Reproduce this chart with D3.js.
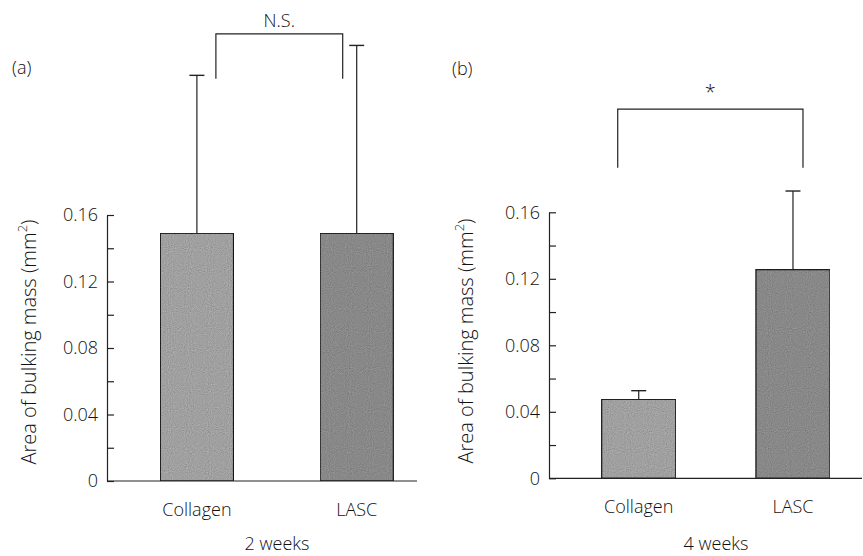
<!DOCTYPE html>
<html>
<head>
<meta charset="utf-8">
<script src="https://cdn.jsdelivr.net/npm/d3@7"></script>
<style>
  body { margin: 0; background: #fff; }
  svg text { font-family: "Open Sans", "Noto Sans", sans-serif; font-weight: 300; fill: #111; }
</style>
</head>
<body>
<div id="chart"></div>
<script>
// data
var groups = ["Collagen", "LASC"]
var week2Mean = [0.149, 0.149]
var week2SD = [0.095, 0.113]
var week4Mean = [0.0475, 0.1255]
var week4SD = [0.0052, 0.0473]
var tickValues = [0, 0.02, 0.04, 0.06, 0.08, 0.10, 0.12, 0.14, 0.16]
var labelValues = [0, 0.04, 0.08, 0.12, 0.16]
var barColors = ["#afafaf", "#959595"]

var width = 863, height = 556;
var fontSize = 18;

var svg = d3.select("#chart")
  .append("svg")
    .attr("width", width)
    .attr("height", height);

// grainy fill like the printed figure
var defs = svg.append("defs");
var grain = defs.append("filter").attr("id", "grain")
  .attr("x", 0).attr("y", 0).attr("width", 1).attr("height", 1);
grain.append("feTurbulence")
  .attr("type", "fractalNoise").attr("baseFrequency", 0.95)
  .attr("numOctaves", 1).attr("seed", 3).attr("result", "noise");
grain.append("feColorMatrix").attr("in", "noise").attr("type", "matrix")
  .attr("values", "0 0 0 0 0  0 0 0 0 0  0 0 0 0 0  0.35 0.35 0.35 0 -0.35")
  .attr("result", "dots");
grain.append("feComposite").attr("in", "dots").attr("in2", "SourceGraphic")
  .attr("operator", "in").attr("result", "dots2");
grain.append("feMerge").selectAll("feMergeNode")
  .data(["SourceGraphic", "dots2"]).enter()
  .append("feMergeNode").attr("in", function(d) { return d; });

var panels = [
  {
    tag: "(a)", tagX: 12, tagY: 74,
    title: "2 weeks", titleX: 277,
    mean: week2Mean, sd: week2SD,
    axisX: 107, axisEnd: 417, y0: 481, y1: 215,
    bandRange: [160.3, 393.3], padInner: 0.542,
    sig: "N.S.", legs: [19, -14], bracketTop: 0.269, bracketBottom: 0.242, sigY: 27,
    yLabelX: 36, yLabelY: 342
  },
  {
    tag: "(b)", tagX: 452, tagY: 75,
    title: "4 weeks", titleX: 716,
    mean: week4Mean, sd: week4SD,
    axisX: 549, axisEnd: 862, y0: 478.3, y1: 212.3,
    bandRange: [601.7, 830], padInner: 0.52,
    sig: "*", legs: [-21, 10], bracketTop: 0.2221, bracketBottom: 0.1868, sigY: 99,
    yLabelX: 473, yLabelY: 341
  }
];

panels.forEach(drawPanel);

function drawPanel(p) {
  var g = svg.append("g");

  var y = d3.scaleLinear()
    .domain([0, 0.16])
    .range([p.y0, p.y1]);

  var x = d3.scaleBand()
    .domain(groups)
    .range(p.bandRange)
    .paddingInner(p.padInner)
    .paddingOuter(0);

  // error bars (upper only) drawn first so bars sit on top
  groups.forEach(function(name, i) {
    var cx = x(name) + x.bandwidth() / 2;
    var top = y(p.mean[i] + p.sd[i]);
    g.append("line")
      .attr("x1", cx).attr("x2", cx)
      .attr("y1", y(p.mean[i])).attr("y2", top)
      .attr("stroke", "#222").attr("stroke-width", 1.2);
    g.append("line")
      .attr("x1", cx - 7.5).attr("x2", cx + 7.5)
      .attr("y1", top).attr("y2", top)
      .attr("stroke", "#222").attr("stroke-width", 1.4);
  });

  g.selectAll("rect.bar")
    .data(groups)
    .enter()
    .append("rect")
      .attr("class", "bar")
      .attr("x", function(d) { return x(d); })
      .attr("y", function(d, i) { return y(p.mean[i]); })
      .attr("width", x.bandwidth())
      .attr("height", function(d, i) { return y(0) - y(p.mean[i]); })
      .attr("fill", function(d, i) { return barColors[i]; })
      .attr("filter", "url(#grain)")
      .attr("stroke", "#1a1a1a")
      .attr("stroke-width", 1.2);

  // y axis: ticks point inward, labels every other tick
  var yAxis = d3.axisLeft(y)
    .tickValues(tickValues)
    .tickSizeInner(-7)
    .tickSizeOuter(0)
    .tickPadding(9)
    .tickFormat(function(d) {
      if (labelValues.indexOf(Math.round(d * 100) / 100) < 0) return "";
      return d === 0 ? "0" : d3.format(".2f")(d);
    });

  var ax = g.append("g")
    .attr("transform", "translate(" + p.axisX + ",0)")
    .call(yAxis);
  ax.attr("font-size", null).attr("font-family", null);
  ax.select(".domain").attr("stroke", "#222").attr("stroke-width", 1.2);
  ax.selectAll(".tick line").attr("stroke", "#222").attr("stroke-width", 1.2);
  ax.selectAll(".tick text")
    .attr("font-size", fontSize)
    .attr("fill", "#111");

  // x axis baseline
  g.append("line")
    .attr("x1", p.axisX).attr("x2", p.axisEnd)
    .attr("y1", y(0)).attr("y2", y(0))
    .attr("stroke", "#222").attr("stroke-width", 1.2);

  g.selectAll("text.cat")
    .data(groups)
    .enter()
    .append("text")
      .attr("class", "cat")
      .attr("x", function(d) { return x(d) + x.bandwidth() / 2; })
      .attr("y", y(0) + 35)
      .attr("text-anchor", "middle")
      .attr("font-size", fontSize)
      .text(function(d) { return d; });

  g.append("text")
    .attr("x", p.titleX)
    .attr("y", 550)
    .attr("text-anchor", "middle")
    .attr("font-size", fontSize)
    .text(p.title);

  g.append("text")
    .attr("x", p.tagX)
    .attr("y", p.tagY)
    .attr("font-size", fontSize)
    .text(p.tag);

  var yl = g.append("text")
    .attr("transform", "translate(" + p.yLabelX + "," + p.yLabelY + ") rotate(-90)")
    .attr("text-anchor", "middle")
    .attr("font-size", 20);
  yl.append("tspan").text("Area of bulking mass (mm");
  yl.append("tspan").attr("baseline-shift", "super").attr("font-size", 13).text("2");
  yl.append("tspan").text(")");

  // significance bracket
  var xa = x(groups[0]) + x.bandwidth() / 2 + p.legs[0],
      xb = x(groups[1]) + x.bandwidth() / 2 + p.legs[1];
  g.append("path")
    .attr("d", "M" + xa + "," + y(p.bracketBottom) +
               "V" + y(p.bracketTop) +
               "H" + xb +
               "V" + y(p.bracketBottom))
    .attr("fill", "none")
    .attr("stroke", "#222")
    .attr("stroke-width", 1.2);

  g.append("text")
    .attr("x", (xa + xb) / 2)
    .attr("y", p.sigY)
    .attr("text-anchor", "middle")
    .attr("font-size", p.sig === "*" ? 20 : fontSize)
    .text(p.sig);
}
</script>
</body>
</html>
